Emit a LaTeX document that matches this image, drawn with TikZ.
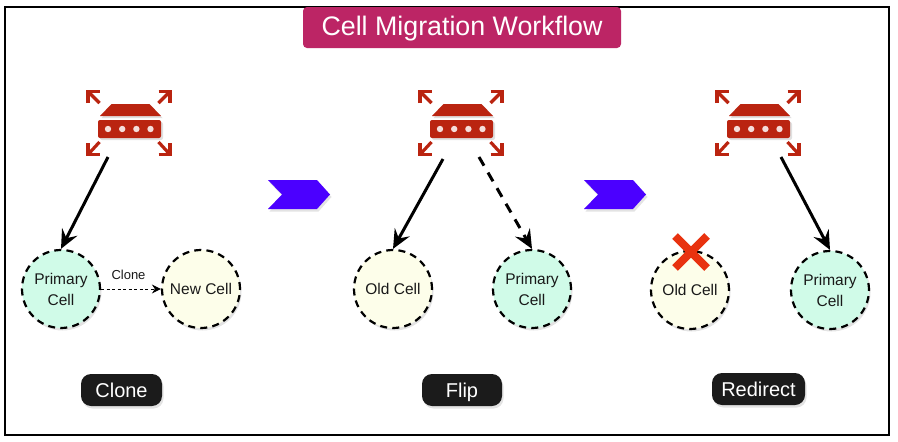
\documentclass[tikz,border=0pt]{standalone}
\usepackage{fontspec}
\setmainfont{Liberation Sans}
\usetikzlibrary{arrows.meta,shadows}
\definecolor{titlec}{HTML}{BC2565}
\definecolor{routerc}{HTML}{BA2410}
\definecolor{mint}{HTML}{D0FBE8}
\definecolor{cream}{HTML}{FDFEEA}
\definecolor{pillc}{HTML}{1B1B1B}
\definecolor{chev}{HTML}{4B00FF}
\definecolor{crossc}{HTML}{E8320F}
\tikzset{
  softshadow/.style={drop shadow={opacity=0.22,shadow xshift=1.5pt,shadow yshift=-2.5pt}},
  cellbase/.style={circle,minimum size=78pt,inner sep=0pt,align=center,draw=black,line width=2.2pt,
     dash pattern=on 7pt off 5.2pt,font=\fontsize{15.5}{21}\selectfont,text=black!90,softshadow},
  primarycell/.style={cellbase,fill=mint},
  othercell/.style={cellbase,fill=cream},
  pill/.style={rectangle,rounded corners=10pt,fill=pillc,text=white,minimum height=32pt,inner sep=0pt,
     text height=14.5pt,text depth=0pt,font=\fontsize{20}{24}\selectfont,softshadow},
  flow/.style={line width=3pt,-{Stealth[length=19pt,width=17pt,inset=7pt]}},
  ricon/.style={draw=routerc,line width=3.2pt,line cap=butt},
  chevron/.style={fill=chev,draw=none,softshadow},
}
\newcommand{\routericon}[1]{%
  \begin{scope}[shift={(#1,0)}]
    \fill[black,opacity=.12] (-16.5,105.5) -- (21.5,105.5) -- (33,118) -- (-28,118) -- cycle;
    \fill[black,opacity=.12,rounded corners=2pt] (-29.5,122) rectangle (33.5,140);
    \fill[routerc] (-18,104) -- (20,104) -- (31.5,116) -- (-29.5,116) -- cycle;
    \fill[routerc,rounded corners=2pt] (-31.5,120) rectangle (31.5,138);
    \foreach \dx in {-21.5,-7.3,6.9,21} \fill[white!85!routerc] (\dx,129) circle (3.2pt);
    \draw[ricon] (-30,103) -- (-41,92);
    \draw[ricon] (-41.5,103) -- (-41.5,91.5) -- (-30,91.5);
    \draw[ricon] (29,103) -- (40,92);
    \draw[ricon] (29,91.5) -- (40.5,91.5) -- (40.5,103);
    \draw[ricon] (-30,142) -- (-41,154);
    \draw[ricon] (-41.5,143) -- (-41.5,154.5) -- (-30,154.5);
    \draw[ricon] (29,142) -- (40,154);
    \draw[ricon] (29,154.5) -- (40.5,154.5) -- (40.5,143);
  \end{scope}}
\begin{document}
\begin{tikzpicture}[x=1pt,y=-1pt]
  \useasboundingbox (0,0) rectangle (898,442);
  \fill[white] (0,0) rectangle (898,442);
  \draw[line width=2pt,black] (5,7) rectangle (889,435);
  \node (title) at (462,27.5) [rectangle,rounded corners=4pt,fill=titlec,text=white,minimum width=318pt,minimum height=41pt,inner sep=0pt,text height=19.5pt,text depth=4pt,font=\fontsize{26.8}{32}\selectfont] {Cell Migration Workflow};

  \routericon{129.5}
  \routericon{461.5}
  \routericon{758.5}

  \path[chevron] (268,180) -- (317,180) -- (330,194.5) -- (317,209) -- (268,209) -- (282,194.5) -- cycle;
  \path[chevron] (584,180) -- (633,180) -- (646,194.5) -- (633,209) -- (584,209) -- (598,194.5) -- cycle;

  \node[primarycell] (p1) at (61,289) {Primary\\Cell};
  \node[othercell] (n1) at (201,289) {New Cell};
  \node[othercell] (o2) at (393,289) {Old Cell};
  \node[primarycell] (p2) at (532,289) {Primary\\Cell};
  \node[othercell] (o3) at (690,290) {Old Cell};
  \node[primarycell] (p3) at (830,290) {Primary\\Cell};

  \coordinate (r1) at (108,157);
  \coordinate (r2a) at (443,159);
  \coordinate (r2b) at (479,157);
  \coordinate (r3) at (781,157);

  \draw[flow] (r1) -- (p1.north);
  \draw[flow] (r2a) -- (o2.north);
  \draw[flow,dash pattern=on 10pt off 8pt] (r2b) -- (p2.north);
  \draw[flow] (r3) -- (p3.north);
  \draw[line width=1pt,dash pattern=on 3pt off 2.5pt,-{Stealth[length=9pt,width=9pt,inset=3pt]}] (p1.east) -- (n1.west);
  \node[font=\fontsize{13}{15}\selectfont,text=black!90] (clonelabel) at (128.5,275) {Clone};

  \draw[crossc,line width=8pt] (675,236) -- (707,268);
  \draw[crossc,line width=8pt] (707,236) -- (675,268);

  \node[pill,minimum width=81pt] (s1) at (121.5,390) {Clone};
  \node[pill,minimum width=80pt] (s2) at (462,390) {Flip};
  \node[pill,minimum width=93pt] (s3) at (758.5,389) {Redirect};
\end{tikzpicture}
\end{document}
